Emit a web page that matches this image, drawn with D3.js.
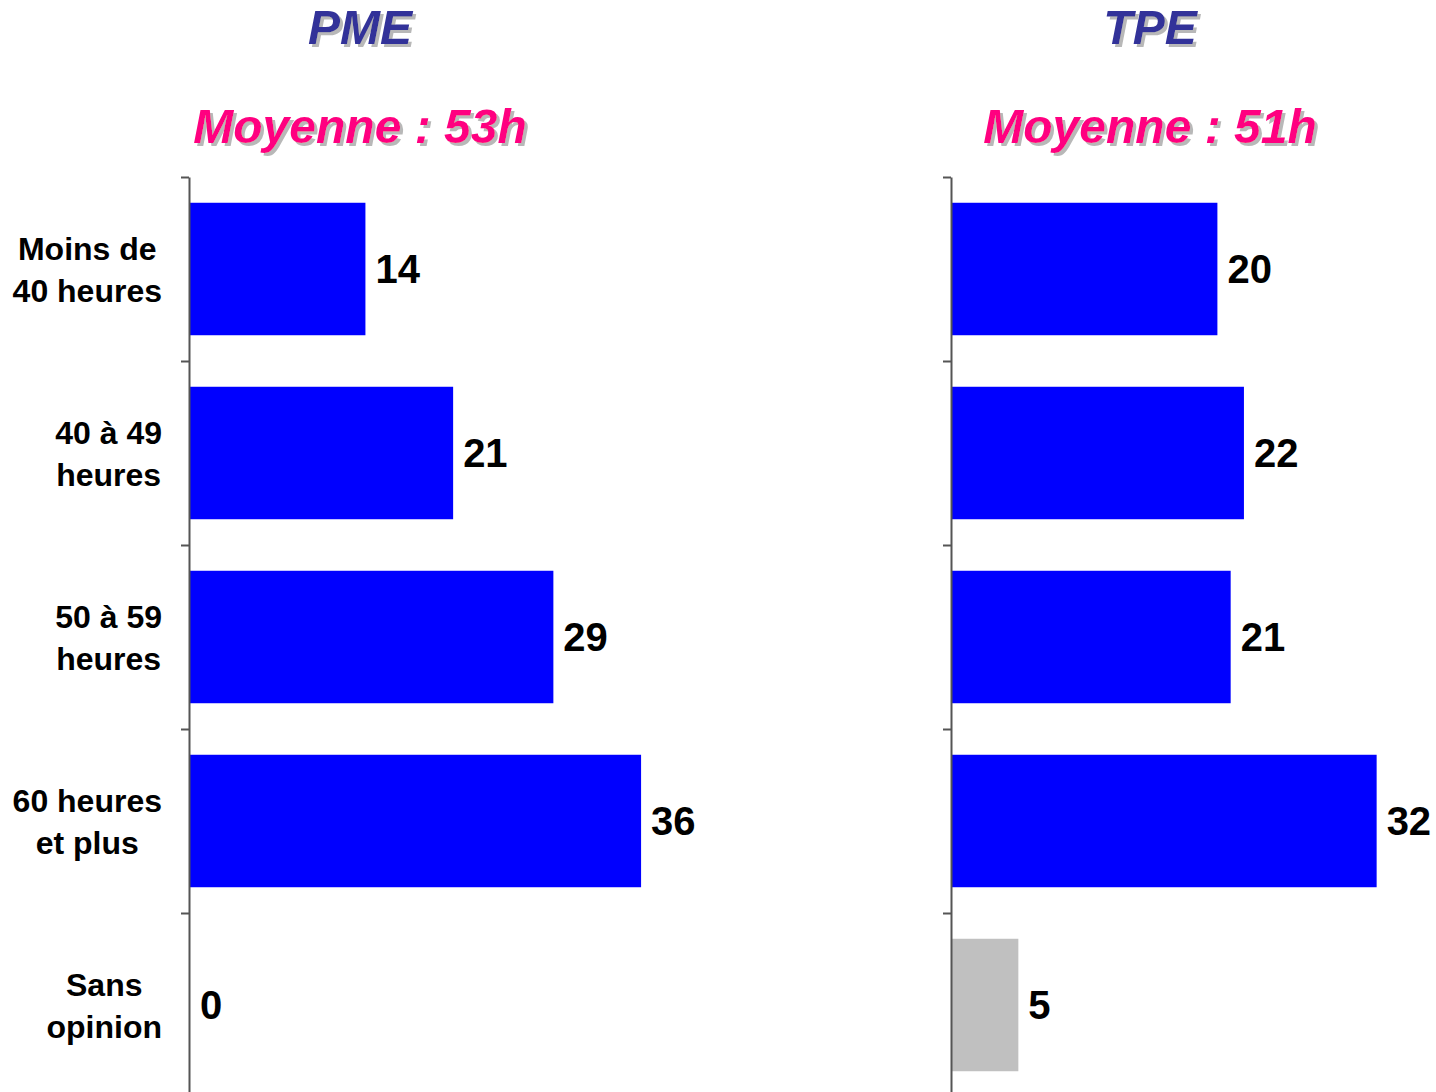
<!DOCTYPE html>
<html>
<head>
<meta charset="utf-8">
<script src="https://cdn.jsdelivr.net/npm/d3@7"></script>
<style>
  body { margin: 0; background: #fff; }
  text { font-family: Arial, "Liberation Sans", sans-serif; }
</style>
</head>
<body>
<svg id="chart" width="1436" height="1092"></svg>
<script>
const categories = [
  ["Moins de", "40 heures"],
  ["40 à 49", "heures"],
  ["50 à 59", "heures"],
  ["60 heures", "et plus"],
  ["Sans", "opinion"]
];
const pmeValues = [14, 21, 29, 36, 0];
const tpeValues = [20, 22, 21, 32, 5];
const panelTitles = ["PME", "TPE"];
const averages = ["Moyenne : 53h", "Moyenne : 51h"];

const svg = d3.select("#chart");
const plotTop = 177, bandStep = 184;

// grey drop shadow under the titles
svg.append("defs").append("filter")
  .attr("id", "shadow")
  .attr("x", "-10%").attr("y", "-20%")
  .attr("width", "120%").attr("height", "140%")
  .append("feDropShadow")
  .attr("dx", 3).attr("dy", 3)
  .attr("stdDeviation", 0.6)
  .attr("flood-color", "#b8b8b8")
  .attr("flood-opacity", 1);

const yBand = d3.scaleBand()
  .domain(d3.range(categories.length))
  .range([plotTop, plotTop + bandStep * categories.length])
  .paddingInner(0.28)
  .paddingOuter(0.14);

// axis ticks sit on band boundaries
const yEdge = d3.scaleLinear()
  .domain([0, categories.length])
  .range([plotTop, plotTop + bandStep * categories.length]);

const panels = [
  { title: panelTitles[0], avg: averages[0], values: pmeValues, axisX: 189, pxPerUnit: 12.53, cx: 360 },
  { title: panelTitles[1], avg: averages[1], values: tpeValues, axisX: 951, pxPerUnit: 13.27, cx: 1150 }
];

function titleText(g, x, y, txt, color) {
  g.append("text").attr("x", x).attr("y", y)
    .attr("text-anchor", "middle").attr("font-size", 48)
    .attr("font-weight", "bold").attr("font-style", "italic")
    .attr("fill", color).attr("filter", "url(#shadow)").text(txt);
}

panels.forEach((p) => {
  const g = svg.append("g");
  titleText(g, p.cx, 44, p.title, "#333399");
  titleText(g, p.cx, 143, p.avg, "#ff0080");

  const x = d3.scaleLinear()
    .domain([0, 40])
    .range([p.axisX + 1, p.axisX + 1 + 40 * p.pxPerUnit]);

  g.selectAll(".bar")
    .data(p.values)
    .join("rect")
    .attr("class", "bar")
    .attr("x", x(0))
    .attr("y", (_, i) => yBand(i))
    .attr("width", (d) => x(d) - x(0))
    .attr("height", yBand.bandwidth())
    .attr("fill", (_, i) => (i === categories.length - 1 ? "#c0c0c0" : "#0000ff"));

  g.selectAll(".val")
    .data(p.values)
    .join("text")
    .attr("class", "val")
    .attr("x", (d) => x(d) + 10)
    .attr("y", (_, i) => yBand(i) + yBand.bandwidth() / 2)
    .attr("dy", "0.36em")
    .attr("font-size", 40)
    .attr("font-weight", "bold")
    .attr("fill", "#000")
    .text((d) => d);

  const axis = g.append("g")
    .attr("transform", `translate(${p.axisX},0)`)
    .call(d3.axisLeft(yEdge).tickValues(d3.range(categories.length + 1)).tickFormat("").tickSize(8).tickSizeOuter(0));
  axis.select(".domain").attr("stroke", "#555").attr("stroke-width", 2);
  axis.selectAll(".tick line").attr("stroke", "#555").attr("stroke-width", 2);
});

// category labels, lines centred, block right-aligned at x = 162
const labels = svg.append("g");
categories.forEach((lines, i) => {
  const cy = yBand(i) + yBand.bandwidth() / 2;
  const t = labels.append("text")
    .attr("font-size", 32)
    .attr("font-weight", "bold")
    .attr("fill", "#000")
    .attr("text-anchor", "middle");
  const spans = lines.map((l, j) =>
    t.append("tspan").attr("y", cy + (j - 0.5) * 42).attr("dy", "0.36em").text(l)
  );
  const maxW = d3.max(spans, (s) => s.node().getComputedTextLength());
  spans.forEach((s) => s.attr("x", 162 - maxW / 2));
});
</script>
</body>
</html>
